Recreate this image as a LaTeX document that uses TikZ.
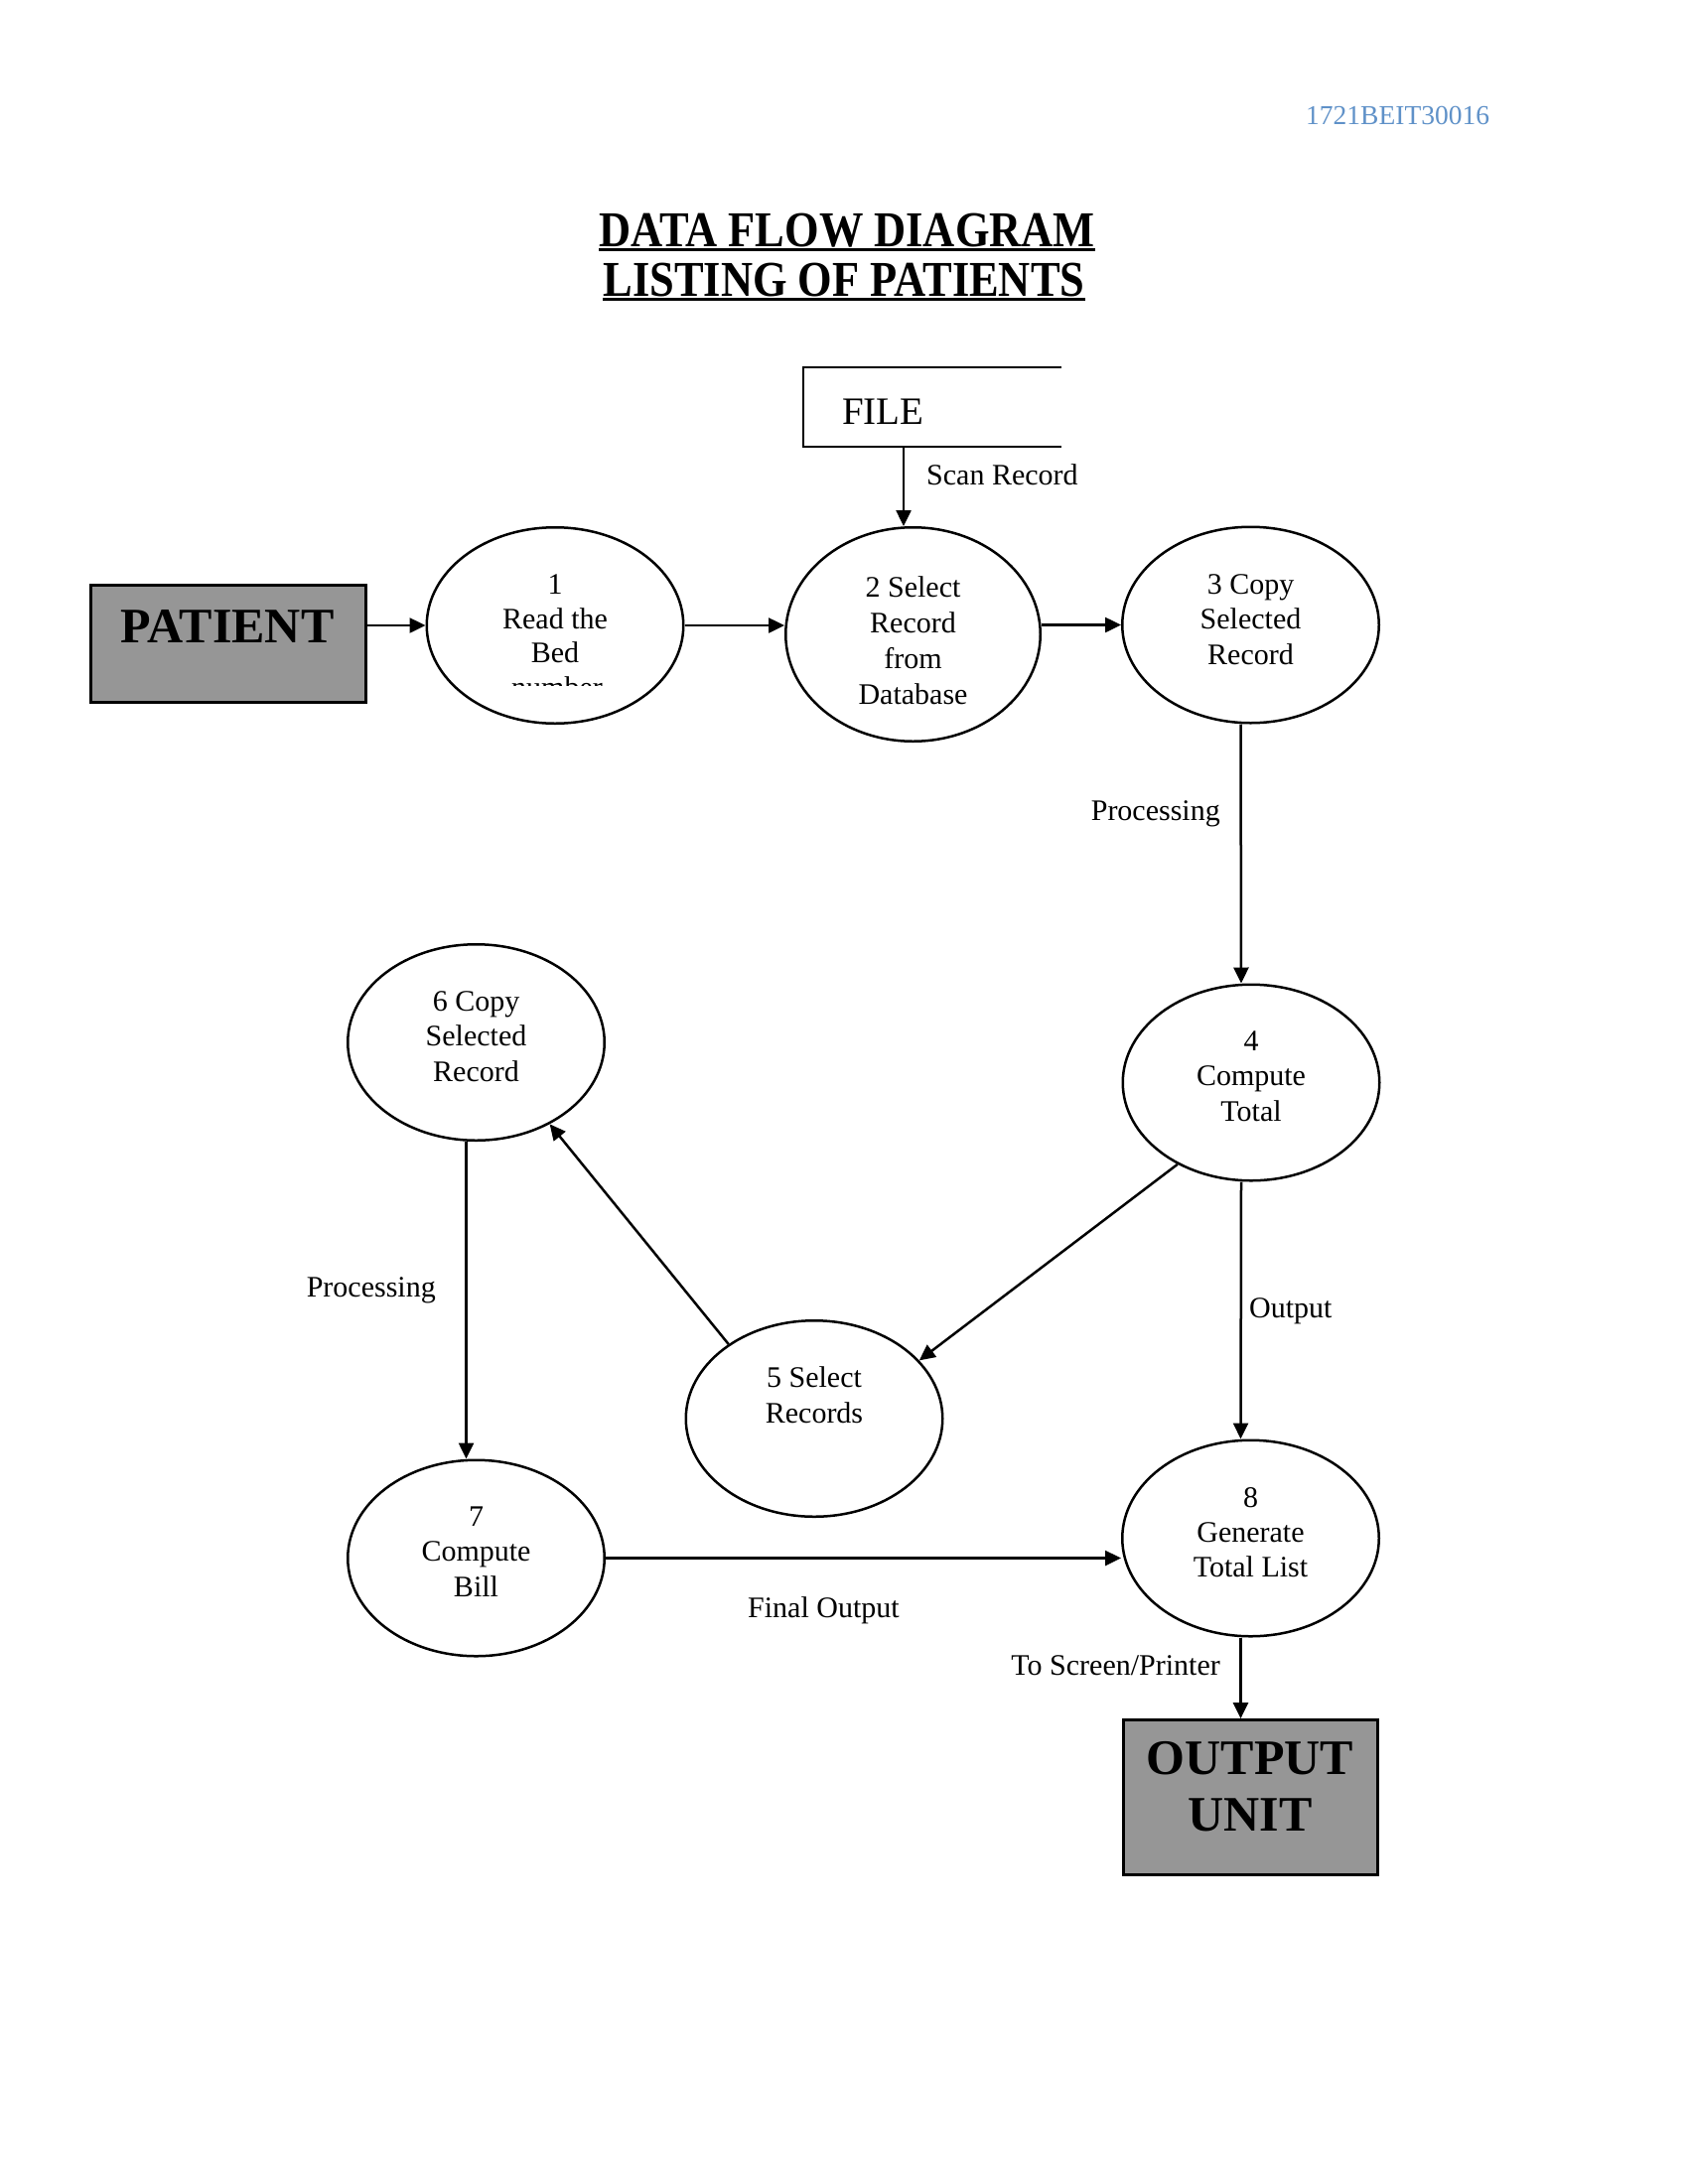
\documentclass[tikz,border=0pt]{standalone}
\usepackage{fontspec}
\setmainfont{Liberation Serif}
\newfontfamily\titlefont{Liberation Serif}[FakeStretch=0.88]
\usetikzlibrary{arrows.meta,shapes.geometric}
\definecolor{boxgray}{RGB}{150,150,150}
\definecolor{idblue}{RGB}{95,145,200}
\begin{document}
\begin{tikzpicture}[x=1pt,y=-1pt,
  proc/.style={ellipse,draw,line width=2.5pt,minimum width=258.5pt,minimum height=197.5pt,inner sep=0pt},
  ext/.style={rectangle,draw,line width=2.8pt,fill=boxgray,inner sep=0pt},
  txt/.style={anchor=base,inner sep=0pt,font=\fontsize{30}{36}\selectfont},
  btxt/.style={anchor=base,inner sep=0pt,font=\fontsize{50}{60}\selectfont\bfseries},
  ttxt/.style={anchor=base,inner sep=0pt,font=\titlefont\bfseries\fontsize{50.5}{60}\selectfont},
  flow/.style={line width=2.5pt,-{Triangle[length=16pt,width=15pt]}},
  uline/.style={line width=3.5pt},
]
\useasboundingbox (0,0) rectangle (1700,2200);

% header and title
\node[anchor=base west,inner sep=0pt,font=\fontsize{27.5}{34}\selectfont,text=idblue] (hdr) at (1315,125) {1721BEIT30016};
\node[ttxt] (ttl1) at (853,248) {DATA FLOW DIAGRAM};
\node[ttxt] (ttl2) at (850,298) {LISTING OF PATIENTS};
\draw[uline] ([yshift=-3.5pt]ttl1.base west) -- ([yshift=-3.5pt]ttl1.base east);
\draw[uline] ([yshift=-3.5pt]ttl2.base west) -- ([yshift=-3.5pt]ttl2.base east);

% external entities
\node[ext,minimum width=277pt,minimum height=118pt] (pat) at (230,648.5) {};
\node[btxt] (patt) at (229,647) {PATIENT};
\node[ext,minimum width=256pt,minimum height=156pt] (out) at (1259.5,1810.5) {};
\node[btxt] (outa) at (1259,1787) {OUTPUT};
\node[btxt] (outb) at (1259,1844) {UNIT};

% data store
\node[minimum width=260pt,minimum height=80pt,inner sep=0pt] (file) at (939,410) {};
\draw[line width=2.5pt] (file.north east) -- (file.north west) -- (file.south west) -- (file.south east);
\node[anchor=base west,inner sep=0pt,font=\fontsize{39}{45}\selectfont] (filet) at (848,427) {FILE};

% processes
\node[proc] (e1) at (559,630) {};
\node[proc,minimum width=256.5pt,minimum height=215.5pt] (e2) at (919.5,639) {};
\node[proc] (e3) at (1259.5,629.5) {};
\node[proc] (e4) at (1260,1090.5) {};
\node[proc] (e6) at (479.5,1050) {};
\node[proc] (e5) at (820,1429) {};
\node[proc] (e7) at (479.5,1569.5) {};
\node[proc] (e8) at (1259.5,1549.5) {};

% process texts
\node[txt] (t1a) at (559,598) {1};
\node[txt] (t1b) at (559,633) {Read the};
\node[txt] (t1c) at (559,667) {Bed};
\begin{scope}
  \clip (420,560) rectangle (700,690);
  \node[txt] (t1d) at (561,702) {number};
\end{scope}
\node[txt] (t2a) at (919.5,601) {2 Select};
\node[txt] (t2b) at (919.5,637) {Record};
\node[txt] (t2c) at (919.5,673) {from};
\node[txt] (t2d) at (919.5,709) {Database};
\node[txt] (t3a) at (1259.5,598) {3 Copy};
\node[txt] (t3b) at (1259.5,633) {Selected};
\node[txt] (t3c) at (1259.5,669) {Record};
\node[txt] (t4a) at (1260,1058) {4};
\node[txt] (t4b) at (1260,1093) {Compute};
\node[txt] (t4c) at (1260,1129) {Total};
\node[txt] (t6a) at (479.5,1018) {6 Copy};
\node[txt] (t6b) at (479.5,1053) {Selected};
\node[txt] (t6c) at (479.5,1089) {Record};
\node[txt] (t5a) at (820,1397) {5 Select};
\node[txt] (t5b) at (820,1433) {Records};
\node[txt] (t7a) at (479.5,1537) {7};
\node[txt] (t7b) at (479.5,1572) {Compute};
\node[txt] (t7c) at (479.5,1608) {Bill};
\node[txt] (t8a) at (1259.5,1518) {8};
\node[txt] (t8b) at (1259.5,1553) {Generate};
\node[txt] (t8c) at (1259.5,1588) {Total List};

% flows
\draw[flow] ([xshift=-29pt]file.south) -- ([xshift=-29pt]file.south |- e2.north);
\draw[flow] (e1.west -| pat.east) -- (e1.west);
\draw[flow] (e1.east) -- (e1.east -| e2.west);
\draw[flow] (e3.west -| e2.east) -- (e3.west);
\draw[flow] ([xshift=-10pt]e3.south) -- ([xshift=-10pt]e4.north);
\draw[flow] (e4.228) -- (e5.29);
\draw[flow] (e5.139) -- (e6.312);
\draw[flow] ([xshift=-10pt]e6.south) -- ([xshift=-10pt]e7.north);
\draw[flow] ([xshift=-10pt]e4.south) -- ([xshift=-10pt]e8.north);
\draw[flow] (e7.east) -- (e7.east -| e8.west);
\draw[flow] ([xshift=-10pt]e8.south) -- ([xshift=-10pt]e8.south |- out.north);

% flow labels
\node[txt,anchor=base west] (lscan) at (933,488) {Scan Record};
\node[txt,anchor=base east] (lproc1) at (1229,826) {Processing};
\node[txt,anchor=base east] (lproc2) at (439,1306) {Processing};
\node[txt,anchor=base west] (lout) at (1258,1327) {Output};
\node[txt,anchor=base west] (lfin) at (753,1629) {Final Output};
\node[txt,anchor=base east] (lscr) at (1229,1687) {To Screen/Printer};
\end{tikzpicture}
\end{document}
